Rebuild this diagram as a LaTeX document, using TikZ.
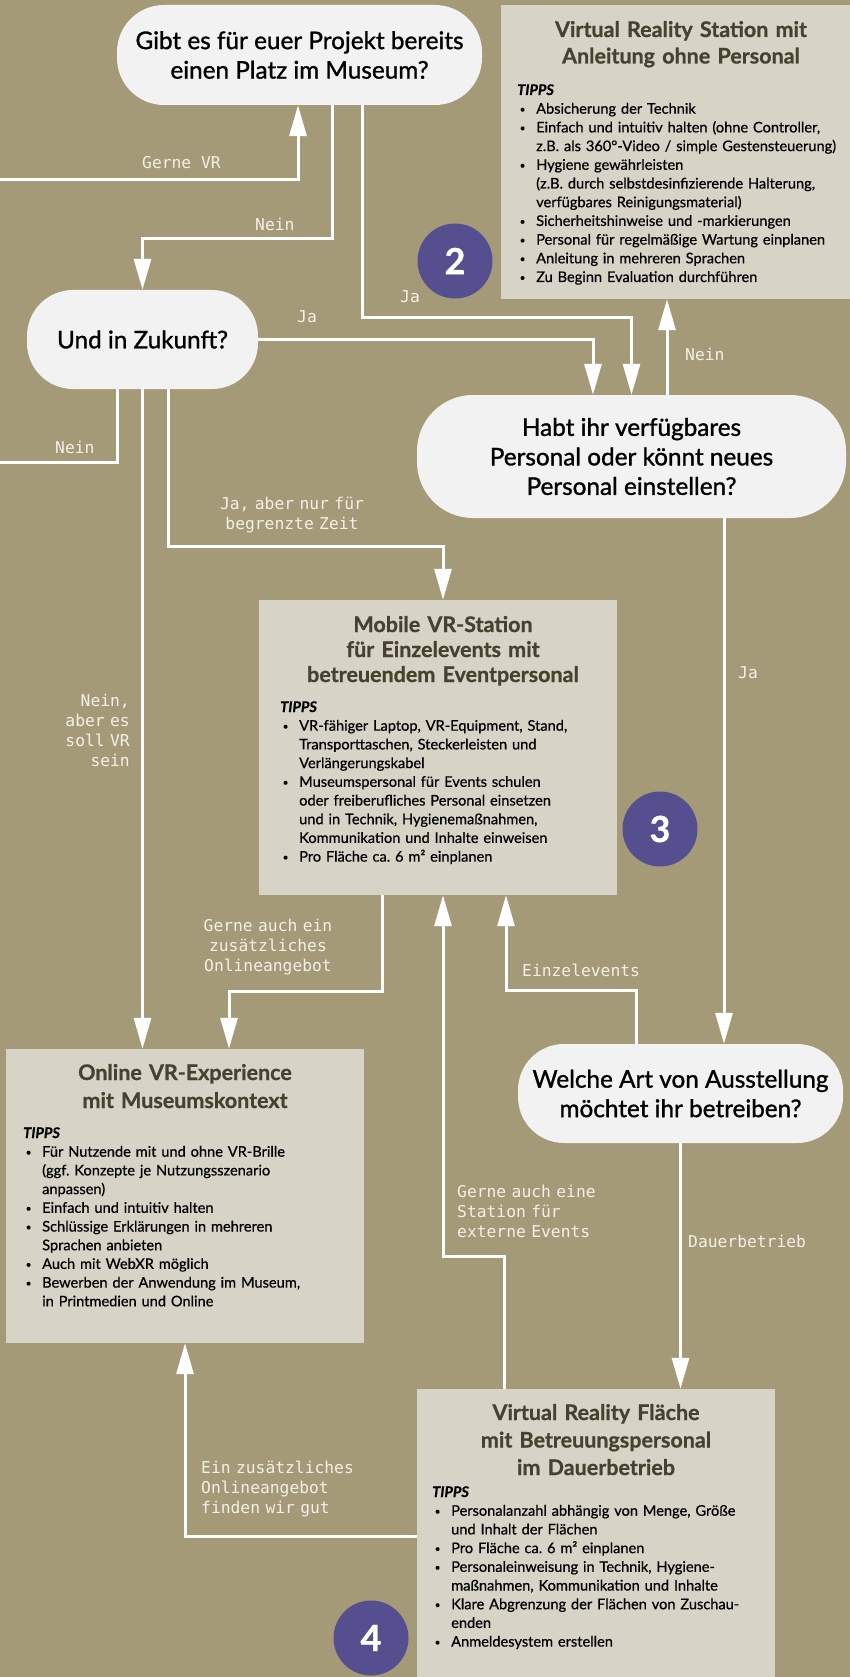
\documentclass[tikz,border=0pt]{standalone}
\usepackage{fontspec}
\setmainfont{Lato}
\newfontfamily\qfont[FakeBold=1.2]{Lato}
\newfontfamily\bodyfont[FakeBold=0.6]{Lato}
\newfontfamily\tfont[BoldFeatures={FakeBold=0.8}]{Lato}
\newfontfamily\monofont{DejaVu Sans Mono}
\usetikzlibrary{arrows.meta,calc}
\definecolor{bg}{HTML}{A59A77}
\definecolor{boxc}{HTML}{D7D3C7}
\definecolor{pillc}{HTML}{F2F2F2}
\definecolor{titlec}{HTML}{46422F}
\definecolor{circc}{HTML}{554E8F}
\definecolor{labc}{HTML}{F3F0E8}
\setlength\parskip{0pt}
\newcommand\nl{\hfil\break}
\newcommand\ti[1]{\par\hangindent=19pt\hangafter=1\noindent\hbox to 19pt{\hskip2.5pt\raisebox{1pt}{\fontsize{10}{12}\selectfont\textbullet}\hfil}#1}
\begin{document}
\begin{tikzpicture}[x=1pt,y=-1pt,
  pill/.style={fill=pillc, inner sep=0pt, align=center, text=black,
    font=\qfont\fontsize{24.3}{29.5}\selectfont},
  box/.style={fill=boxc, inner sep=0pt},
  btitle/.style={font=\tfont\bfseries\fontsize{21.5}{26.5}\selectfont, text=titlec,
    align=center, text width=345pt, anchor=base, inner sep=0pt},
  tips/.style={font=\bodyfont\fontsize{14.6}{18.7}\selectfont, text=black,
    text width=340pt, anchor=base west, inner sep=0pt},
  lab/.style={font=\monofont\fontsize{16.3}{20}\selectfont, text=labc, inner sep=0pt},
  conn/.style={draw=white, line width=3pt},
  arr/.style={conn, -{Triangle[length=31pt,width=17pt]}},
  num/.style={circle, fill=circc, minimum size=75pt, inner sep=0pt, text=white,
    font=\tfont\bfseries\fontsize{36}{36}\selectfont}]
\fill[bg] (0,0) rectangle (850,1677);
\useasboundingbox (0,0) rectangle (850,1677);

% question pills
\node[pill, rounded corners=47pt, minimum width=365pt, minimum height=100pt] (q1) at (299.5,55)
  {Gibt es für euer Projekt bereits\\einen Platz im Museum?};
\node[pill, rounded corners=46pt, minimum width=231pt, minimum height=99pt] (q2) at (142.5,339.5)
  {Und in Zukunft?};
\node[pill, rounded corners=56pt, minimum width=429pt, minimum height=123pt] (q3) at (631.5,456.5)
  {Habt ihr verfügbares\\Personal oder könnt neues\\Personal einstellen?};
\node[pill, rounded corners=46pt, minimum width=325pt, minimum height=99pt] (q4) at (680.5,1093.5)
  {Welche Art von Ausstellung\\möchtet ihr betreiben?};

% result boxes
\node[box, minimum width=349pt, minimum height=294pt] (b1) at (675.5,152) {};
\node[btitle] (b1t) at (681,37) {Virtual Reality Station mit\\Anleitung ohne Personal};
\node[tips] (b1l) at (517,95) {\textbf{\textit{TIPPS}}
\ti{Absicherung der Technik}
\ti{Einfach und intuitiv halten (ohne Controller,\nl z.B. als 360°-Video / simple Gestensteuerung)}
\ti{Hygiene gewährleisten\nl (z.B. durch selbstdesinfizierende Halterung,\nl verfügbares Reinigungsmaterial)}
\ti{Sicherheitshinweise und -markierungen}
\ti{Personal für regelmäßige Wartung einplanen}
\ti{Anleitung in mehreren Sprachen}
\ti{Zu Beginn Evaluation durchführen}\par};

\node[box, minimum width=358pt, minimum height=295pt] (b2) at (438,747.5) {};
\node[btitle, font=\tfont\bfseries\fontsize{21.5}{25}\selectfont] (b2t) at (443,632) {Mobile VR-Station\\für Einzelevents mit\\betreuendem Eventpersonal};
\node[tips] (b2l) at (280,712) {\textbf{\textit{TIPPS}}
\ti{VR-fähiger Laptop, VR-Equipment, Stand,\nl Transporttaschen, Steckerleisten und\nl Verlängerungskabel}
\ti{Museumspersonal für Events schulen\nl oder freiberufliches Personal einsetzen\nl und in Technik, Hygienemaßnahmen,\nl Kommunikation und Inhalte einweisen}
\ti{Pro Fläche ca.\ 6 m² einplanen}\par};

\node[box, minimum width=358pt, minimum height=294pt] (b3) at (185,1196) {};
\node[btitle, font=\tfont\bfseries\fontsize{21.5}{28}\selectfont] (b3t) at (185,1080) {Online VR-Experience\\mit Museumskontext};
\node[tips] (b3l) at (23,1138) {\textbf{\textit{TIPPS}}
\ti{Für Nutzende mit und ohne VR-Brille\nl (ggf.\ Konzepte je Nutzungsszenario\nl anpassen)}
\ti{Einfach und intuitiv halten}
\ti{Schlüssige Erklärungen in mehreren\nl Sprachen anbieten}
\ti{Auch mit WebXR möglich}
\ti{Bewerben der Anwendung im Museum,\nl in Printmedien und Online}\par};

\node[box, minimum width=358pt, minimum height=288pt] (b4) at (596,1533) {};
\node[btitle, font=\tfont\bfseries\fontsize{21.5}{27.5}\selectfont] (b4t) at (596,1420) {Virtual Reality Fläche\\mit Betreuungspersonal\\im Dauerbetrieb};
\node[tips] (b4l) at (432,1497) {\textbf{\textit{TIPPS}}
\ti{Personalanzahl abhängig von Menge, Größe\nl und Inhalt der Flächen}
\ti{Pro Fläche ca.\ 6 m² einplanen}
\ti{Personaleinweisung in Technik, Hygiene-\nl maßnahmen, Kommunikation und Inhalte}
\ti{Klare Abgrenzung der Flächen von Zuschau-\nl enden}
\ti{Anmeldesystem erstellen}\par};

% number circles
\node[num] (c2) at (455,261) {2};
\node[num] (c3) at (660,829) {3};
\node[num] (c4) at (371,1638) {4};

% connectors
\coordinate (gvs) at (0,180);
\draw[arr] (gvs) -| ([xshift=-1.5pt]q1.south);
\draw[arr] ([xshift=32.5pt]q1.south) -- ++(0,133) -| (q2.north);
\draw[arr] ([xshift=62.5pt]q1.south) -- ++(0,212) -| (q3.north);
\draw[arr] (q2.east) -| ([xshift=-38.5pt]q3.north);
\path ([xshift=35.5pt]q3.north) coordinate (e1);
\draw[arr] (e1) -- (e1 |- b1.south);
\coordinate (nls) at (0,462);
\draw[conn] ([xshift=-25.5pt]q2.south) |- (nls);
\draw[arr] (q2.south) -- (q2.south |- b3.north);
\path ([xshift=5pt]b2.north) coordinate (e2);
\draw[arr] ([xshift=25.5pt]q2.south) -- ++(0,157) -| (e2);
\path ([xshift=92.5pt]q3.south) coordinate (e3);
\draw[arr] (e3) -- (e3 |- q4.north);
\draw[arr] ([xshift=-44.5pt]q4.north) -- ++(0,-53) -| ([xshift=68pt]b2.south);
\draw[arr] ([xshift=-92pt]b4.north) -- ++(0,-132) -| ([xshift=5pt]b2.south);
\draw[arr] ([xshift=-56pt]b2.south) -- ++(0,96) -| ([xshift=44pt]b3.north);
\draw[arr] (q4.south) -- (q4.south |- b4.north);
\draw[arr] ([yshift=-3pt]b4.west) -| (b3.south);

% connector labels
\node[lab, anchor=base west] (l1) at (142,168.5) {Gerne VR};
\node[lab, anchor=base west] (l2) at (255,230.5) {Nein};
\node[lab, anchor=base west] (l3) at (400,302) {Ja};
\node[lab, anchor=base west] (l4) at (297,323) {Ja};
\node[lab, anchor=base west] (l5) at (685,360.5) {Nein};
\node[lab, anchor=base west] (l6) at (55,453.5) {Nein};
\node[lab, text width=170pt, align=center, anchor=base] (l7) at (292,509.5) {Ja, aber nur für\\begrenzte Zeit};
\node[lab, anchor=base west] (l8) at (738,678) {Ja};
\node[lab, text width=80pt, align=right, anchor=base east] (l9) at (130,706.5) {Nein,\\aber es\\soll VR\\sein};
\node[lab, text width=160pt, align=center, anchor=base] (l10) at (268,931.5) {Gerne auch ein\\zusätzliches\\Onlineangebot};
\node[lab, anchor=base west] (l11) at (522,976.5) {Einzelevents};
\node[lab, text width=170pt, align=left, anchor=base west] (l12) at (457,1197.5) {Gerne auch eine\\Station für\\externe Events};
\node[lab, anchor=base west] (l13) at (688,1247.5) {Dauerbetrieb};
\node[lab, text width=180pt, align=left, anchor=base west] (l14) at (201,1473.5) {Ein zusätzliches\\Onlineangebot\\finden wir gut};
\end{tikzpicture}
\end{document}
